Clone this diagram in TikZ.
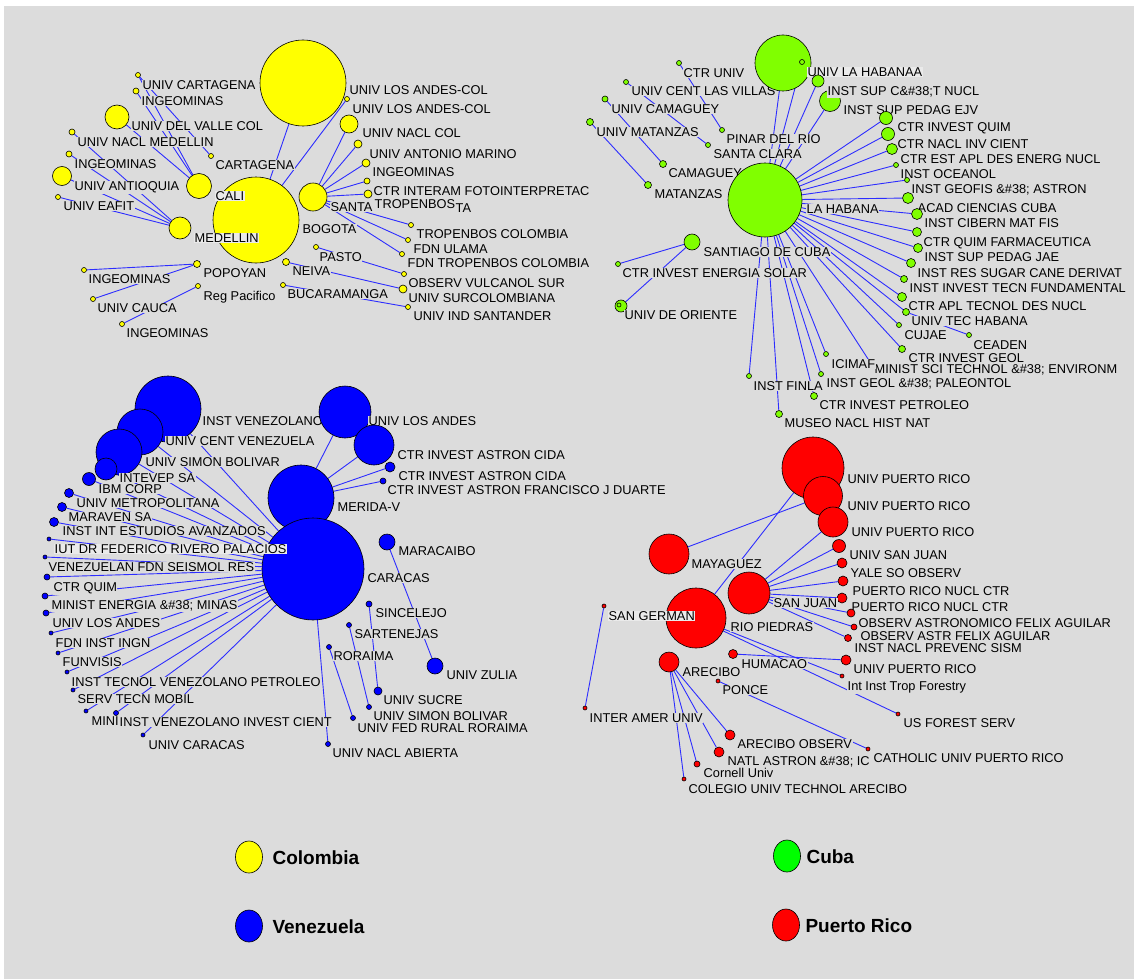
\documentclass[tikz,border=0pt]{standalone}
\usepackage{fontspec}
\setmainfont{Liberation Sans}
\usetikzlibrary{shapes.geometric}
\definecolor{bgc}{RGB}{220,220,220}
\definecolor{boxc}{RGB}{234,234,234}
\definecolor{edgec}{RGB}{45,45,255}
\definecolor{colyel}{RGB}{255,255,0}
\definecolor{cubgrn}{RGB}{128,255,0}
\definecolor{legcub}{RGB}{0,255,0}
\definecolor{venblu}{RGB}{0,0,255}
\definecolor{purred}{RGB}{255,0,0}
\pgfdeclarelayer{background}
\pgfsetlayers{background,main}
\newcommand{\labfont}{\fontsize{12.8}{14}\selectfont}
\newcommand{\legfont}{\fontsize{19}{22}\selectfont\bfseries}

\begin{document}
\begin{tikzpicture}[x=1pt, y=-1pt,
  ve/.style={circle, draw=black, line width=0.6pt, inner sep=0pt},
  co/.style={ve, fill=colyel}, cu/.style={ve, fill=cubgrn},
  vz/.style={ve, fill=venblu}, pr/.style={ve, fill=purred},
  lab/.style={anchor=base west, yshift=-4.6pt, fill=bgc, inner sep=0.5pt, font=\labfont},
  hilab/.style={lab, fill=boxc},
  edge/.style={draw=edgec, line width=0.9pt},
  legdot/.style={ellipse, draw=black, line width=0.6pt, minimum width=27pt, minimum height=32pt},
  legtxt/.style={anchor=base west, font=\legfont}]
    \useasboundingbox (0,0) rectangle (1134,979);
    \begin{pgfonlayer}{background}
    \fill[white] (0,0) rectangle (1134,979);
    \fill[bgc] (4,6) rectangle (1134,979);
    \end{pgfonlayer}

    % Colombia
    \node[co, minimum size=86pt] (losandes) at (303,83) {};
    \node[lab] (losandes-l) at (349,90) {UNIV LOS ANDES-COL};
    \node[co, minimum size=5pt] (c2) at (347,99) {};
    \node[lab] (c2-l) at (352,109) {UNIV LOS ANDES-COL};
    \node[co, minimum size=18pt] (c3) at (349,124) {};
    \node[lab] (c3-l) at (362,133) {UNIV NACL COL};
    \node[co, minimum size=8pt] (c4) at (358,144) {};
    \node[lab] (c4-l) at (369,154) {UNIV ANTONIO MARINO};
    \node[co, minimum size=8pt] (c5) at (366,163) {};
    \node[lab] (c5-l) at (372,172) {INGEOMINAS};
    \node[co, minimum size=6pt] (c6) at (367,181) {};
    \node[lab] (c6-l) at (373,191) {CTR INTERAM FOTOINTERPRETAC};
    \node[co, minimum size=28pt] (santa) at (313,197) {};
    \node[lab] (santa-l) at (330,207) {SANTA};
    \node[co, minimum size=8pt] (c7) at (368,194) {};
    \node[lab] (c7-l) at (374,204) {TROPENBOS};
    \node[lab] (c7-t) at (455,208) {TA};
    \node[co, minimum size=5pt] (c9) at (411,225) {};
    \node[lab] (c9-l) at (416,234) {TROPENBOS COLOMBIA};
    \node[co, minimum size=5pt] (c10) at (408,240) {};
    \node[lab] (c10-l) at (413,249) {FDN ULAMA};
    \node[co, minimum size=5pt] (c11) at (402,254) {};
    \node[lab] (c11-l) at (407,263) {FDN TROPENBOS COLOMBIA};
    \node[co, minimum size=5pt] (pasto) at (316,247) {};
    \node[lab] (pasto-l) at (319,257) {PASTO};
    \node[co, minimum size=5pt] (c13) at (404,274) {};
    \node[lab] (c13-l) at (408,283) {OBSERV VULCANOL SUR};
    \node[co, minimum size=7pt] (neiva) at (286,262) {};
    \node[lab] (neiva-l) at (292,271) {NEIVA};
    \node[co, minimum size=8pt] (c15) at (403,289) {};
    \node[lab] (c15-l) at (408,298) {UNIV SURCOLOMBIANA};
    \node[co, minimum size=5pt] (c16) at (283,285) {};
    \node[lab] (c16-l) at (287,294) {BUCARAMANGA};
    \node[co, minimum size=5pt] (c17) at (408,307) {};
    \node[lab] (c17-l) at (413,316) {UNIV IND SANTANDER};
    \node[co, minimum size=86pt] (bogota) at (256,220) {};
    \node[lab] (bogota-l) at (302,229) {BOGOTA};
    \node[co, minimum size=5pt] (c19) at (138,75) {};
    \node[lab] (c19-l) at (142,85) {UNIV CARTAGENA};
    \node[co, minimum size=6pt] (c20) at (136,91) {};
    \node[lab] (c20-l) at (141,101) {INGEOMINAS};
    \node[co, minimum size=24pt] (c21) at (117,117) {};
    \node[lab] (c21-l) at (131,126) {UNIV DEL VALLE COL};
    \node[co, minimum size=6pt] (c22) at (72,132) {};
    \node[lab] (c22-l) at (77,142) {UNIV NACL MEDELLIN};
    \node[co, minimum size=5pt] (cartagena) at (211,156) {};
    \node[lab] (cartagena-l) at (215,165) {CARTAGENA};
    \node[co, minimum size=6pt] (c24) at (69,154) {};
    \node[lab] (c24-l) at (74,164) {INGEOMINAS};
    \node[co, minimum size=19pt] (c25) at (62,176) {};
    \node[lab] (c25-l) at (74,186) {UNIV ANTIOQUIA};
    \node[co, minimum size=25pt] (cali) at (199,186) {};
    \node[hilab] (cali-l) at (215,196) {CALI};
    \node[co, minimum size=5pt] (c27) at (58,197) {};
    \node[lab] (c27-l) at (63,206) {UNIV EAFIT};
    \node[co, minimum size=22pt] (medellin) at (180,228) {};
    \node[hilab] (medellin-l) at (194,238) {MEDELLIN};
    \node[co, minimum size=7pt] (popoyan) at (197,264) {};
    \node[lab] (popoyan-l) at (203,273) {POPOYAN};
    \node[co, minimum size=5pt] (c30) at (84,270) {};
    \node[lab] (c30-l) at (88,279) {INGEOMINAS};
    \node[co, minimum size=5pt] (c31) at (198,286) {};
    \node[lab] (c31-l) at (203,296) {Reg Pacifico};
    \node[co, minimum size=5pt] (c32) at (93,299) {};
    \node[lab] (c32-l) at (97,308) {UNIV CAUCA};
    \node[co, minimum size=5pt] (c33) at (122,324) {};
    \node[lab] (c33-l) at (126,333) {INGEOMINAS};

    % Cuba
    \node[cu, minimum size=5pt] (u30) at (679,63) {};
    \node[lab] (u30-l) at (683,73) {CTR UNIV};
    \node[cu, minimum size=5pt] (u31) at (626,82) {};
    \node[lab] (u31-l) at (631,91) {UNIV CENT LAS VILLAS};
    \node[cu, minimum size=6pt] (u32) at (605,99) {};
    \node[lab] (u32-l) at (611,109) {UNIV CAMAGUEY};
    \node[cu, minimum size=7pt] (u33) at (590,122) {};
    \node[lab] (u33-l) at (596,132) {UNIV MATANZAS};
    \node[cu, minimum size=5pt] (u34) at (722,130) {};
    \node[lab] (u34-l) at (726,139) {PINAR DEL RIO};
    \node[cu, minimum size=5pt] (u35) at (708,145) {};
    \node[lab] (u35-l) at (713,154) {SANTA CLARA};
    \node[cu, minimum size=7pt] (u36) at (663,164) {};
    \node[lab] (u36-l) at (668,173) {CAMAGUEY};
    \node[cu, minimum size=7pt] (u37) at (648,185) {};
    \node[lab] (u37-l) at (654,194) {MATANZAS};
    \node[cu, minimum size=74pt] (habana) at (765,200) {};
    \node[lab] (habana-l) at (806,209) {LA HABANA};
    \node[cu, minimum size=56pt] (u1) at (783,63) {};
    \node[cu, minimum size=5pt] (u1b) at (802,62) {};
    \node[hilab] (u1-l) at (807,72) {UNIV LA HABANAA};
    \node[cu, minimum size=21pt] (u3) at (830,101) {};
    \node[cu, minimum size=12pt] (u2) at (818,81) {};
    \node[lab] (u2-l) at (827,91) {INST SUP C\&\#38;T NUCL};
    \node[lab] (u3-l) at (843,110) {INST SUP PEDAG EJV};
    \node[cu, minimum size=13pt] (u4) at (886,118) {};
    \node[lab] (u4-l) at (897,127) {CTR INVEST QUIM};
    \node[cu, minimum size=13pt] (u5) at (888,134) {};
    \node[lab] (u5-l) at (897,144) {CTR NACL INV CIENT};
    \node[cu, minimum size=11pt] (u6) at (892,149) {};
    \node[lab] (u6-l) at (900,159) {CTR EST APL DES ENERG NUCL};
    \node[cu, minimum size=5pt] (u7) at (896,165) {};
    \node[lab] (u7-l) at (900,174) {INST OCEANOL};
    \node[cu, minimum size=5pt] (u8) at (907,180) {};
    \node[lab] (u8-l) at (911,189) {INST GEOFIS \&\#38; ASTRON};
    \node[cu, minimum size=11pt] (u9) at (908,198) {};
    \node[lab] (u9-l) at (917,208) {ACAD CIENCIAS CUBA};
    \node[cu, minimum size=11pt] (u10) at (917,214) {};
    \node[lab] (u10-l) at (924,223) {INST CIBERN MAT FIS};
    \node[cu, minimum size=9pt] (u11) at (917,232) {};
    \node[lab] (u11-l) at (923,242) {CTR QUIM FARMACEUTICA};
    \node[cu, minimum size=9pt] (u12) at (918,248) {};
    \node[lab] (u12-l) at (924,257) {INST SUP PEDAG JAE};
    \node[cu, minimum size=9pt] (u13) at (911,263) {};
    \node[lab] (u13-l) at (917,273) {INST RES SUGAR CANE DERIVAT};
    \node[cu, minimum size=7pt] (u14) at (904,279) {};
    \node[lab] (u14-l) at (909,288) {INST INVEST TECN FUNDAMENTAL};
    \node[cu, minimum size=9pt] (u15) at (902,297) {};
    \node[lab] (u15-l) at (908,306) {CTR APL TECNOL DES NUCL};
    \node[cu, minimum size=7pt] (u16) at (906,312) {};
    \node[lab] (u16-l) at (911,321) {UNIV TEC HABANA};
    \node[cu, minimum size=5pt] (u17) at (899,325) {};
    \node[lab] (u17-l) at (904,335) {CUJAE};
    \node[cu, minimum size=5pt] (u18) at (969,335) {};
    \node[lab] (u18-l) at (973,345) {CEADEN};
    \node[cu, minimum size=7pt] (u19) at (902,349) {};
    \node[lab] (u19-l) at (908,358) {CTR INVEST GEOL};
    \coordinate (u20) at (870,362);
    \node[lab] (u20-l) at (874,369) {MINIST SCI TECHNOL \&\#38; ENVIRONM};
    \node[cu, minimum size=5pt] (u21) at (826,354) {};
    \node[lab] (u21-l) at (831,364) {ICIMAF};
    \node[cu, minimum size=5pt] (u23) at (749,376) {};
    \node[lab] (u23-l) at (753,386) {INST FINLA};
    \node[cu, minimum size=5pt] (u22) at (821,374) {};
    \node[lab] (u22-l) at (826,383) {INST GEOL \&\#38; PALEONTOL};
    \node[cu, minimum size=7pt] (u24) at (814,396) {};
    \node[lab] (u24-l) at (819,405) {CTR INVEST PETROLEO};
    \node[cu, minimum size=7pt] (u25) at (779,414) {};
    \node[lab] (u25-l) at (784,423) {MUSEO NACL HIST NAT};
    \node[cu, minimum size=16pt] (santiago) at (692,242) {};
    \node[lab] (santiago-l) at (703,252) {SANTIAGO DE CUBA};
    \node[cu, minimum size=5pt] (u28) at (618,264) {};
    \node[lab] (u28-l) at (622,273) {CTR INVEST ENERGIA SOLAR};
    \node[cu, minimum size=12pt] (u29) at (621,306) {};
    \node[cu, minimum size=4pt] (u29b) at (619,305) {};
    \node[lab] (u29-l) at (624,315) {UNIV DE ORIENTE};

    % Venezuela
    \node[vz, minimum size=66pt] (merida) at (301,498) {};
    \node[lab] (merida-l) at (337,507) {MERIDA-V};
    \node[vz, minimum size=102pt] (caracas) at (313,569) {};
    \node[lab] (caracas-l) at (367,578) {CARACAS};
    \node[vz, minimum size=66pt] (v1) at (168,409) {};
    \node[lab] (v1-l) at (202,421) {INST VENEZOLANO};
    \node[vz, minimum size=46pt] (v2) at (140,432) {};
    \node[lab] (v2-l) at (165,441) {UNIV CENT VENEZUELA};
    \node[vz, minimum size=46pt] (v3) at (119,452) {};
    \node[lab] (v3-l) at (145,462) {UNIV SIMON BOLIVAR};
    \node[vz, minimum size=22pt] (v4) at (106,469) {};
    \node[lab] (v4-l) at (119,478) {INTEVEP SA};
    \node[vz, minimum size=13pt] (v5) at (89,479) {};
    \node[lab] (v5-l) at (98,489) {IBM CORP};
    \node[vz, minimum size=9pt] (v6) at (69,493) {};
    \node[lab] (v6-l) at (76,503) {UNIV METROPOLITANA};
    \node[vz, minimum size=9pt] (v7) at (62,507) {};
    \node[lab] (v7-l) at (68,517) {MARAVEN SA};
    \node[vz, minimum size=9pt] (v8) at (54,522) {};
    \node[lab] (v8-l) at (62,531) {INST INT ESTUDIOS AVANZADOS};
    \node[vz, minimum size=4pt] (v9) at (49,539) {};
    \node[hilab] (v9-l) at (54,549) {IUT DR FEDERICO RIVERO PALACIOS};
    \node[vz, minimum size=4pt] (v10) at (45,557) {};
    \node[lab] (v10-l) at (48,567) {VENEZUELAN FDN SEISMOL RES};
    \node[vz, minimum size=6pt] (v11) at (47,577) {};
    \node[lab] (v11-l) at (53,587) {CTR QUIM};
    \node[vz, minimum size=6pt] (v12) at (45,596) {};
    \node[lab] (v12-l) at (51,605) {MINIST ENERGIA \&\#38; MINAS};
    \node[vz, minimum size=6pt] (v13) at (46,613) {};
    \node[lab] (v13-l) at (52,623) {UNIV LOS ANDES};
    \node[vz, minimum size=4pt] (v14) at (51,633) {};
    \node[lab] (v14-l) at (55,643) {FDN INST INGN};
    \node[vz, minimum size=4pt] (v15) at (58,653) {};
    \node[lab] (v15-l) at (62,662) {FUNVISIS};
    \node[vz, minimum size=4pt] (v16) at (67,672) {};
    \node[lab] (v16-l) at (71,682) {INST TECNOL VENEZOLANO PETROLEO};
    \node[vz, minimum size=4pt] (v17) at (73,690) {};
    \node[lab] (v17-l) at (77,699) {SERV TECN MOBIL};
    \node[vz, minimum size=4pt] (v18) at (86,711) {};
    \node[lab] (v18-l) at (91,721) {MINI};
    \node[vz, minimum size=5pt] (v19) at (116,713) {};
    \node[lab] (v19-l) at (119,722) {INST VENEZOLANO INVEST CIENT};
    \node[vz, minimum size=4pt] (v20) at (143,735) {};
    \node[lab] (v20-l) at (148,745) {UNIV CARACAS};
    \node[vz, minimum size=52pt] (v23) at (345,412) {};
    \node[lab] (v23-l) at (368,421) {UNIV LOS ANDES};
    \node[vz, minimum size=40pt] (v24) at (374,445) {};
    \node[lab] (v24-l) at (397,455) {CTR INVEST ASTRON CIDA};
    \node[vz, minimum size=10pt] (v25) at (390,467) {};
    \node[lab] (v25-l) at (398,476) {CTR INVEST ASTRON CIDA};
    \node[vz, minimum size=6pt] (v26) at (383,481) {};
    \node[lab] (v26-l) at (387,490) {CTR INVEST ASTRON FRANCISCO J DUARTE};
    \node[vz, minimum size=16pt] (v27) at (387,542) {};
    \node[lab] (v27-l) at (398,551) {MARACAIBO};
    \node[vz, minimum size=16pt] (v28) at (435,666) {};
    \node[lab] (v28-l) at (446,675) {UNIV ZULIA};
    \node[vz, minimum size=6pt] (v29) at (369,604) {};
    \node[lab] (v29-l) at (375,613) {SINCELEJO};
    \node[vz, minimum size=5pt] (v30) at (349,625) {};
    \node[lab] (v30-l) at (354,634) {SARTENEJAS};
    \node[vz, minimum size=5pt] (v31) at (329,647) {};
    \node[lab] (v31-l) at (333,656) {RORAIMA};
    \node[vz, minimum size=8pt] (v32) at (378,691) {};
    \node[lab] (v32-l) at (383,700) {UNIV SUCRE};
    \node[vz, minimum size=5pt] (v33) at (369,707) {};
    \node[lab] (v33-l) at (373,716) {UNIV SIMON BOLIVAR};
    \node[vz, minimum size=5pt] (v34) at (353,718) {};
    \node[lab] (v34-l) at (357,728) {UNIV FED RURAL RORAIMA};
    \node[vz, minimum size=5pt] (v35) at (328,744) {};
    \node[lab] (v35-l) at (332,753) {UNIV NACL ABIERTA};

    % Puerto Rico
    \node[pr, minimum size=62pt] (p1) at (813,468) {};
    \node[lab] (p1-l) at (847,479) {UNIV PUERTO RICO};
    \node[pr, minimum size=39pt] (p2) at (823,496) {};
    \node[lab] (p2-l) at (847,506) {UNIV PUERTO RICO};
    \node[pr, minimum size=30pt] (p3) at (833,522) {};
    \node[lab] (p3-l) at (851,532) {UNIV PUERTO RICO};
    \node[pr, minimum size=13pt] (p4) at (839,546) {};
    \node[lab] (p4-l) at (849,555) {UNIV SAN JUAN};
    \node[pr, minimum size=10pt] (p5) at (842,563) {};
    \node[lab] (p5-l) at (850,573) {YALE SO OBSERV};
    \node[pr, minimum size=10pt] (p6) at (843,581) {};
    \node[lab] (p6-l) at (852,591) {PUERTO RICO NUCL CTR};
    \node[pr, minimum size=10pt] (p7) at (842,598) {};
    \node[lab] (p7-l) at (851,607) {PUERTO RICO NUCL CTR};
    \node[pr, minimum size=8pt] (p8) at (851,613) {};
    \node[lab] (p8-l) at (858,623) {OBSERV ASTRONOMICO FELIX AGUILAR};
    \node[pr, minimum size=6pt] (p9) at (854,627) {};
    \node[lab] (p9-l) at (860,636) {OBSERV ASTR FELIX AGUILAR};
    \node[pr, minimum size=7pt] (p10) at (848,638) {};
    \node[lab] (p10-l) at (854,648) {INST NACL PREVENC SISM};
    \node[pr, minimum size=10pt] (p11) at (846,660) {};
    \node[lab] (p11-l) at (853,669) {UNIV PUERTO RICO};
    \node[pr, minimum size=4pt] (p12) at (842,676) {};
    \node[lab] (p12-l) at (847,686) {Int Inst Trop Forestry};
    \node[pr, minimum size=4pt] (p13) at (898,714) {};
    \node[lab] (p13-l) at (903,723) {US FOREST SERV};
    \node[pr, minimum size=40pt] (mayaguez) at (669,554) {};
    \node[lab] (mayaguez-l) at (691,564) {MAYAGUEZ};
    \node[pr, minimum size=42pt] (sanjuan) at (749,593) {};
    \node[lab] (sanjuan-l) at (773,603) {SAN JUAN};
    \node[pr, minimum size=60pt] (riopiedras) at (696,618) {};
    \node[lab] (riopiedras-l) at (730,627) {RIO PIEDRAS};
    \node[pr, minimum size=4pt] (p18) at (604,606) {};
    \node[hilab] (p18-l) at (608,616) {SAN GERMAN};
    \node[pr, minimum size=4pt] (p19) at (585,708) {};
    \node[lab] (p19-l) at (589,718) {INTER AMER UNIV};
    \node[pr, minimum size=20pt] (arecibo) at (669,662) {};
    \node[lab] (arecibo-l) at (682,672) {ARECIBO};
    \node[pr, minimum size=9pt] (humacao) at (733,654) {};
    \node[lab] (humacao-l) at (741,664) {HUMACAO};
    \node[pr, minimum size=4pt] (ponce) at (718,681) {};
    \node[lab] (ponce-l) at (722,690) {PONCE};
    \node[pr, minimum size=10pt] (p23) at (730,735) {};
    \node[lab] (p23-l) at (737,744) {ARECIBO OBSERV};
    \node[pr, minimum size=10pt] (p24) at (719,752) {};
    \node[lab] (p24-l) at (727,761) {NATL ASTRON \&\#38; IC};
    \node[pr, minimum size=4pt] (p14) at (868,749) {};
    \node[lab] (p14-l) at (873,758) {CATHOLIC UNIV PUERTO RICO};
    \node[pr, minimum size=6pt] (p25) at (697,764) {};
    \node[lab] (p25-l) at (703,773) {Cornell Univ};
    \node[pr, minimum size=4pt] (p26) at (684,779) {};
    \node[lab] (p26-l) at (688,789) {COLEGIO UNIV TECHNOL ARECIBO};

    % legend
    \node[legdot, fill=colyel] (leg-col) at (249,857) {};
    \node[legtxt] (leg-col-l) at (269,864) {Colombia};
    \node[legdot, fill=venblu] (leg-ven) at (249,926) {};
    \node[legtxt] (leg-ven-l) at (269,933) {Venezuela};
    \node[legdot, fill=legcub] (leg-cub) at (787,856) {};
    \node[legtxt] (leg-cub-l) at (803,863) {Cuba};
    \node[legdot, fill=purred] (leg-pr) at (786,925) {};
    \node[legtxt] (leg-pr-l) at (802,932) {Puerto Rico};

    \begin{pgfonlayer}{background}
    % Colombia links
    \draw[edge] (losandes) -- (bogota);
    \draw[edge] (c2) -- (bogota);
    \draw[edge] (santa) -- (c3);
    \draw[edge] (santa) -- (c4);
    \draw[edge] (santa) -- (c5);
    \draw[edge] (santa) -- (c6);
    \draw[edge] (santa) -- (c7);
    \draw[edge] (santa) -- (c9);
    \draw[edge] (santa) -- (c10);
    \draw[edge] (santa) -- (c11);
    \draw[edge] (pasto) -- (c13);
    \draw[edge] (neiva) -- (c15);
    \draw[edge] (c16) -- (c17);
    \draw[edge] (c19) -- (cartagena);
    \draw[edge] (c19) -- (cali);
    \draw[edge] (c20) -- (cali);
    \draw[edge] (c21) -- (cali);
    \draw[edge] (c22) -- (medellin);
    \draw[edge] (c24) -- (medellin);
    \draw[edge] (c25) -- (medellin);
    \draw[edge] (c27) -- (medellin);
    \draw[edge] (popoyan) -- (c30);
    \draw[edge] (popoyan) -- (c32);
    \draw[edge] (c31) -- (c33);
    % Cuba links
    \draw[edge] (u30) -- (u34);
    \draw[edge] (u31) -- (u35);
    \draw[edge] (u32) -- (u36);
    \draw[edge] (u33) -- (u37);
    \draw[edge] (habana) -- (u1);
    \draw[edge] (habana) -- (u1b);
    \draw[edge] (habana) -- (u2);
    \draw[edge] (habana) -- (u3);
    \draw[edge] (habana) -- (u4);
    \draw[edge] (habana) -- (u5);
    \draw[edge] (habana) -- (u6);
    \draw[edge] (habana) -- (u7);
    \draw[edge] (habana) -- (u8);
    \draw[edge] (habana) -- (u9);
    \draw[edge] (habana) -- (u10);
    \draw[edge] (habana) -- (u11);
    \draw[edge] (habana) -- (u12);
    \draw[edge] (habana) -- (u13);
    \draw[edge] (habana) -- (u14);
    \draw[edge] (habana) -- (u15);
    \draw[edge] (habana) -- (u16);
    \draw[edge] (habana) -- (u17);
    \draw[edge] (habana) -- (u19);
    \draw[edge] (habana) -- (u20);
    \draw[edge] (habana) -- (u21);
    \draw[edge] (habana) -- (u22);
    \draw[edge] (habana) -- (u23);
    \draw[edge] (habana) -- (u24);
    \draw[edge] (habana) -- (u25);
    \draw[edge] (u16) -- (u18);
    \draw[edge] (santiago) -- (u28);
    \draw[edge] (santiago) -- (u29);
    % Venezuela links
    \draw[edge] (caracas) -- (v1);
    \draw[edge] (caracas) -- (v2);
    \draw[edge] (caracas) -- (v3);
    \draw[edge] (caracas) -- (v4);
    \draw[edge] (caracas) -- (v5);
    \draw[edge] (caracas) -- (v6);
    \draw[edge] (caracas) -- (v7);
    \draw[edge] (caracas) -- (v8);
    \draw[edge] (caracas) -- (v9);
    \draw[edge] (caracas) -- (v10);
    \draw[edge] (caracas) -- (v11);
    \draw[edge] (caracas) -- (v12);
    \draw[edge] (caracas) -- (v13);
    \draw[edge] (caracas) -- (v14);
    \draw[edge] (caracas) -- (v15);
    \draw[edge] (caracas) -- (v16);
    \draw[edge] (caracas) -- (v17);
    \draw[edge] (caracas) -- (v18);
    \draw[edge] (caracas) -- (v19);
    \draw[edge] (caracas) -- (v20);
    \draw[edge] (caracas) -- (v35);
    \draw[edge] (merida) -- (v23);
    \draw[edge] (merida) -- (v24);
    \draw[edge] (merida) -- (v25);
    \draw[edge] (merida) -- (v26);
    \draw[edge] (v27) -- (v28);
    \draw[edge] (v29) -- (v32);
    \draw[edge] (v30) -- (v33);
    \draw[edge] (v31) -- (v34);
    % Puerto Rico links
    \draw[edge] (p18) -- (p19);
    \draw[edge] (mayaguez) -- (p2);
    \draw[edge] (riopiedras) -- (p1);
    \draw[edge] (sanjuan) -- (p3);
    \draw[edge] (sanjuan) -- (p4);
    \draw[edge] (sanjuan) -- (p5);
    \draw[edge] (sanjuan) -- (p6);
    \draw[edge] (sanjuan) -- (p7);
    \draw[edge] (sanjuan) -- (p8);
    \draw[edge] (sanjuan) -- (p9);
    \draw[edge] (sanjuan) -- (p10);
    \draw[edge] (humacao) -- (p11);
    \draw[edge] (riopiedras) -- (p12);
    \draw[edge] (riopiedras) -- (p13);
    \draw[edge] (ponce) -- (p14);
    \draw[edge] (arecibo) -- (p23);
    \draw[edge] (arecibo) -- (p24);
    \draw[edge] (arecibo) -- (p25);
    \draw[edge] (arecibo) -- (p26);
    \end{pgfonlayer}
\end{tikzpicture}
\end{document}
